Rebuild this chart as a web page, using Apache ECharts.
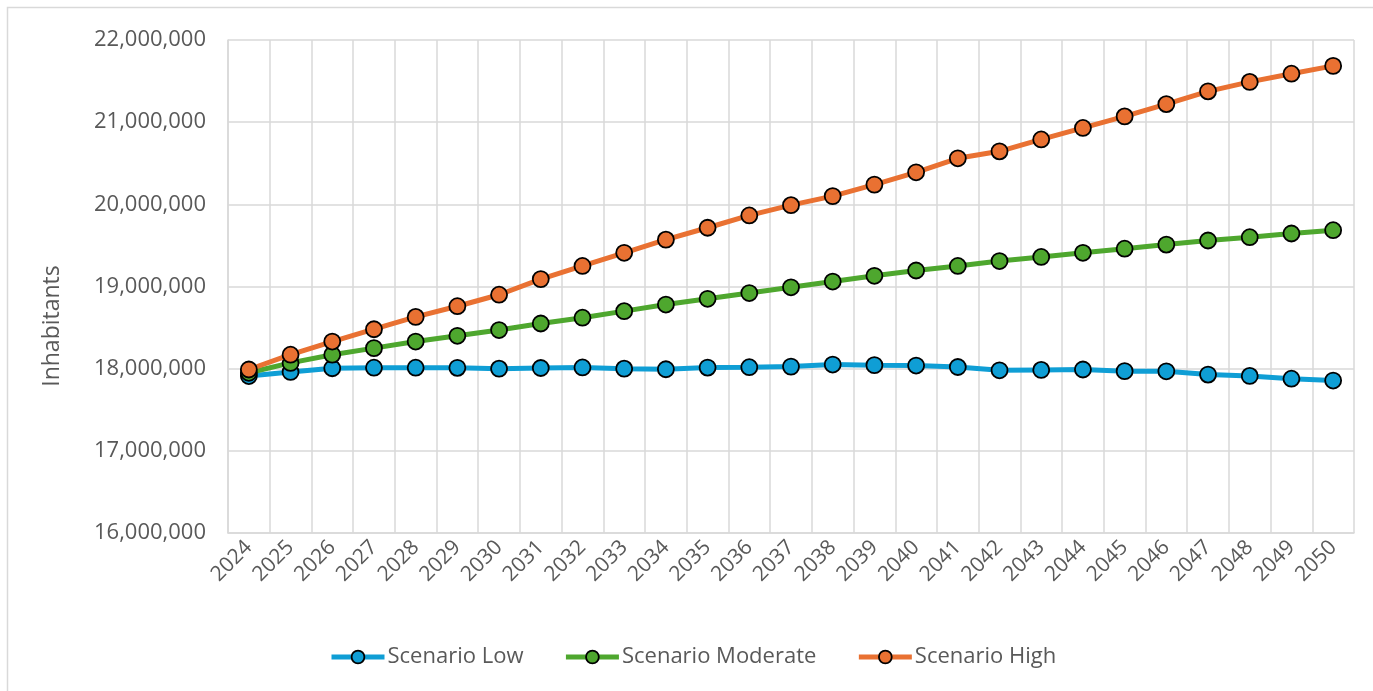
<!DOCTYPE html>
<html>
<head>
<meta charset="utf-8">
<script src="https://cdn.jsdelivr.net/npm/echarts@6/dist/echarts.min.js"></script>
<style>
  html, body { margin: 0; padding: 0; background: #fff; }
  #chart { width: 1373px; height: 691px; }
</style>
</head>
<body>
<div id="chart"></div>
<script>
// Population projections 2024–2050 under three scenarios
const years = ['2024','2025','2026','2027','2028','2029','2030','2031','2032','2033','2034','2035','2036','2037','2038','2039','2040','2041','2042','2043','2044','2045','2046','2047','2048','2049','2050'];

const scenarioLow = [17910000,17960000,18005000,18012000,18012000,18010000,18000000,18008000,18015000,18000000,17993000,18013000,18018000,18025000,18050000,18043000,18038000,18020000,17980000,17985000,17990000,17970000,17968000,17928000,17912000,17878000,17855000];
const scenarioModerate = [17950000,18070000,18170000,18250000,18330000,18400000,18470000,18550000,18620000,18700000,18780000,18850000,18920000,18990000,19060000,19130000,19195000,19250000,19310000,19360000,19410000,19460000,19510000,19560000,19600000,19645000,19685000];
const scenarioHigh = [17990000,18170000,18330000,18480000,18630000,18760000,18900000,19090000,19250000,19410000,19570000,19715000,19865000,19990000,20100000,20240000,20390000,20560000,20645000,20790000,20930000,21070000,21220000,21375000,21490000,21590000,21685000];

const seriesNames = ['Scenario Low', 'Scenario Moderate', 'Scenario High'];
const seriesColors = ['#0F9ED5', '#4EA72E', '#E97132'];
const seriesData = [scenarioLow, scenarioModerate, scenarioHigh];

const textColor = '#595959';
const gridColor = '#d9d9d9';
const fontFamily = '"Open Sans", "Noto Sans", sans-serif';

const chart = echarts.init(document.getElementById('chart'));

chart.setOption({
  animation: false,
  backgroundColor: '#fff',
  textStyle: { fontFamily: fontFamily },
  graphic: [
    {
      type: 'rect',
      shape: { x: 7.5, y: 7.5, width: 1400, height: 720 },
      style: { fill: 'none', stroke: '#d9d9d9', lineWidth: 1.5 },
      silent: true
    },
    {
      type: 'text',
      x: 52,
      y: 326,
      rotation: Math.PI / 2,
      style: {
        text: 'Inhabitants',
        fill: textColor,
        font: '23px ' + fontFamily,
        align: 'center',
        verticalAlign: 'middle'
      }
    }
  ],
  legend: {
    left: 324,
    top: 641,
    itemWidth: 53,
    itemHeight: 16,
    itemGap: 40,
    itemStyle: { borderColor: '#000', borderWidth: 1.8 },
    lineStyle: { width: 5 },
    textStyle: { color: textColor, fontSize: 22, fontFamily: fontFamily, padding: [0, 0, 0, -2] },
    data: seriesNames
  },
  grid: {
    left: 228,
    right: 19,
    top: 40,
    bottom: 158,
    containLabel: false,
    show: false
  },
  xAxis: {
    type: 'category',
    data: years,
    boundaryGap: true,
    axisLine: { show: true, lineStyle: { color: gridColor, width: 1.5 } },
    axisTick: { show: false },
    splitLine: { show: true, interval: 0, lineStyle: { color: gridColor, width: 1.5 } },
    axisLabel: {
      interval: 0,
      rotate: 45,
      color: textColor,
      fontSize: 21,
      margin: 11,
      fontFamily: fontFamily
    }
  },
  yAxis: {
    type: 'value',
    min: 16000000,
    max: 22000000,
    interval: 1000000,
    axisLine: { show: true, lineStyle: { color: gridColor, width: 1.5 } },
    axisTick: { show: false },
    splitLine: { show: true, lineStyle: { color: gridColor, width: 1.5 } },
    axisLabel: {
      color: textColor,
      fontSize: 22,
      margin: 22,
      fontFamily: fontFamily,
      formatter: v => v.toLocaleString('en-US')
    }
  },
  series: seriesNames.map((name, i) => ({
    name: name,
    type: 'line',
    data: seriesData[i],
    symbol: 'circle',
    symbolSize: 16,
    lineStyle: { color: seriesColors[i], width: 5 },
    itemStyle: { color: seriesColors[i], borderColor: '#000', borderWidth: 1.8 },
    z: 2 + i
  }))
});
</script>
</body>
</html>
